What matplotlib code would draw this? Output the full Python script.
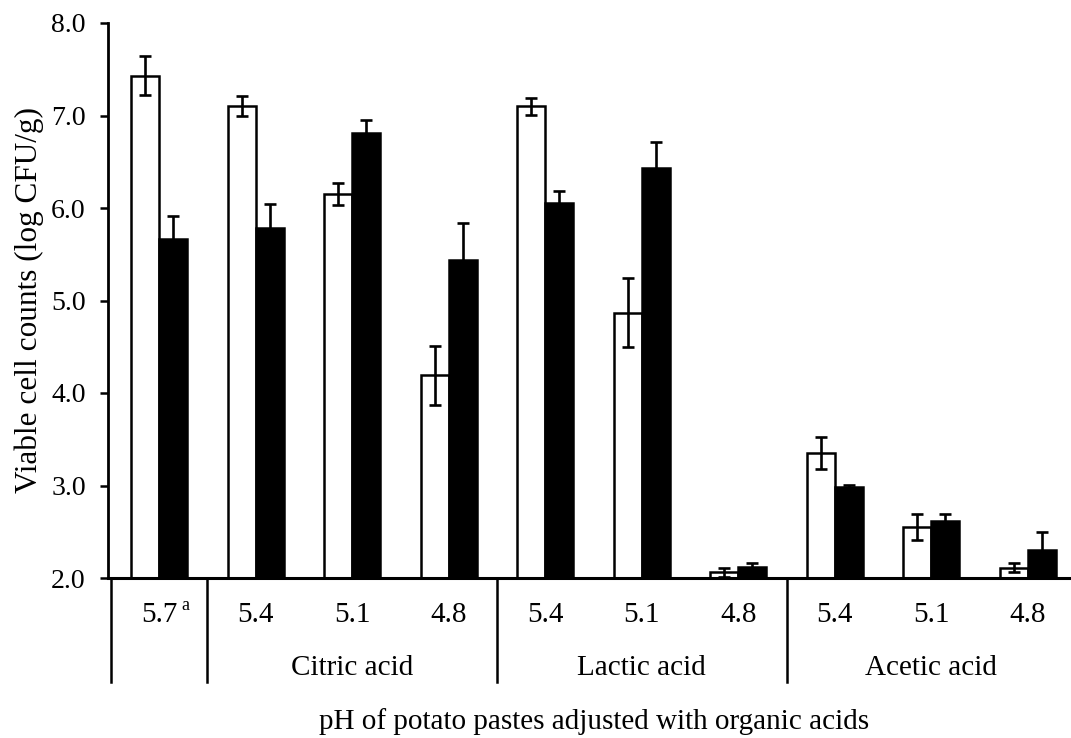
import numpy as np
import matplotlib
matplotlib.use("Agg")
import matplotlib.pyplot as plt

plt.rcParams['font.family'] = ['Liberation Serif', 'DejaVu Serif']

########### data
ph_labels = ["5.7", "5.4", "5.1", "4.8", "5.4", "5.1", "4.8", "5.4", "5.1", "4.8"]
acid_names = ["Citric acid", "Lactic acid", "Acetic acid"]
acid_spans = [(1, 3), (4, 6), (7, 9)]   # first/last category index of each acid
white_vals = [7.43, 7.10, 6.15, 4.19, 7.10, 4.87, 2.06, 3.35, 2.55, 2.11]
white_err = [0.21, 0.11, 0.12, 0.32, 0.09, 0.37, 0.05, 0.17, 0.14, 0.05]
black_vals = [5.67, 5.78, 6.81, 5.44, 6.05, 6.43, 2.12, 2.98, 2.62, 2.30]
black_err = [0.24, 0.26, 0.14, 0.40, 0.13, 0.28, 0.04, 0.03, 0.07, 0.20]

x = np.arange(len(ph_labels))
w = 0.29
fs = 20      # y tick labels
fx = 21      # x-side labels

fig = plt.figure(figsize=(10.71, 7.38), dpi=100)
ax = fig.add_axes([108/1071, 160/738, 963/1071, 555/738])

ax.bar(x - w/2, white_vals, w, color="white", edgecolor="black", linewidth=1.8)
ax.bar(x + w/2, black_vals, w, color="black", edgecolor="black", linewidth=1.8)
ax.errorbar(x - w/2, white_vals, yerr=white_err, fmt="none", ecolor="black",
            elinewidth=1.9, capsize=4.3, capthick=1.9)
ax.errorbar(x + w/2, black_vals, yerr=black_err, fmt="none", ecolor="black",
            elinewidth=1.9, capsize=4.3, capthick=1.9)

ax.set_ylim(2.0, 8.0)
ax.set_xlim(-0.531, 9.448)
ax.set_yticks(np.arange(2, 8.01, 1.0))
ax.set_yticklabels(["%.1f" % v for v in np.arange(2, 8.01, 1.0)], fontsize=fs)
ax.tick_params(axis="y", direction="out", length=6, width=1.8, pad=10)
ax.set_xticks([])
for s in ["top", "right"]:
    ax.spines[s].set_visible(False)
ax.spines["left"].set_linewidth(2.0)
ax.spines["bottom"].set_linewidth(2.2)

trans = ax.get_xaxis_transform()
# separators under the axis
for b in [-0.5, 0.5, 3.5, 6.5]:
    ax.plot([b, b], [0, -0.187], color="black", lw=1.8, transform=trans, clip_on=False)

# pH labels
for i, lab in enumerate(ph_labels):
    ax.text(x[i], -0.079, lab, transform=trans, ha="center", va="baseline", fontsize=fx)
ax.text(x[0] + 0.23, -0.058, "a", transform=trans, ha="left", va="baseline", fontsize=13)

for name, (a, b) in zip(acid_names, acid_spans):
    ax.text((a + b) / 2, -0.175, name, transform=trans, ha="center", va="baseline", fontsize=fx)

fig.text(594/1071, 9/738, "pH of potato pastes adjusted with organic acids",
         ha="center", va="baseline", fontsize=fx)
fig.text(29/1071, (738-300)/738, "Viable cell counts (log CFU/g)", rotation=90,
         ha="center", va="center", fontsize=22.5)

fig.savefig("out.png", dpi=100)
